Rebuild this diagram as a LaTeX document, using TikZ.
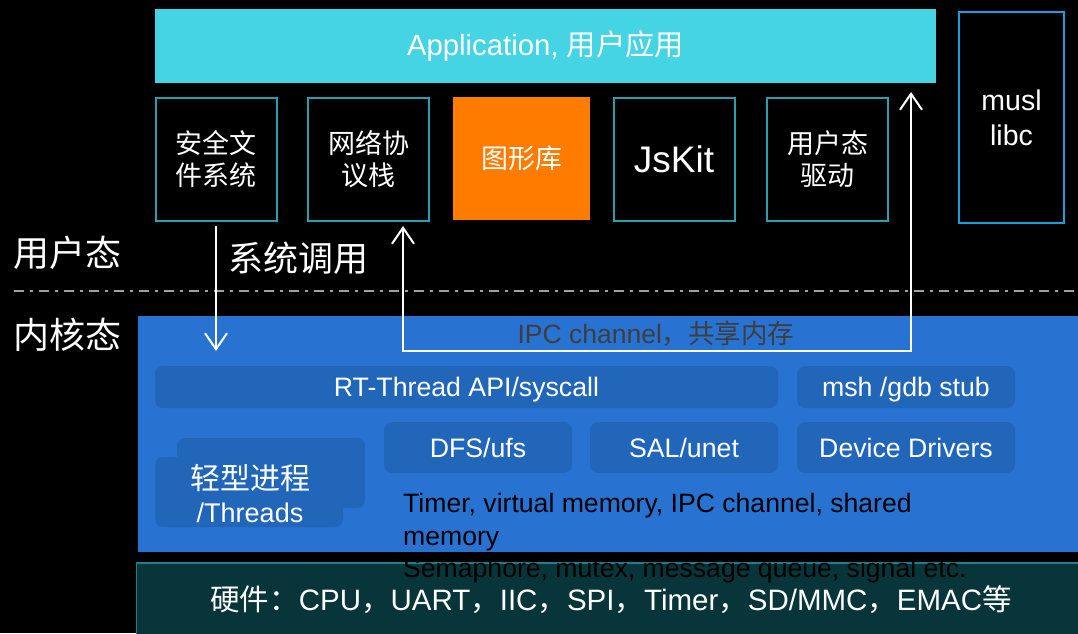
\documentclass[tikz,border=0pt]{standalone}
\usepackage{fontspec}
\setmainfont{Liberation Sans}
\newfontfamily\cjk{Noto Sans CJK SC}
\usetikzlibrary{arrows.meta}
\definecolor{appcyan}{HTML}{45D4E4}
\definecolor{boxteal}{HTML}{2A9DAE}
\definecolor{gfxorange}{HTML}{FF7C00}
\definecolor{muslblue}{HTML}{159EE0}
\definecolor{kblue}{HTML}{2873D1}
\definecolor{kinner}{HTML}{2166B9}
\definecolor{hwfill}{HTML}{07353A}
\definecolor{hwline}{HTML}{1B7F8C}
\definecolor{ipcgray}{HTML}{3E3E3E}
\definecolor{dashgray}{HTML}{A0A0A0}
\begin{document}
\begin{tikzpicture}[x=1pt,y=-1pt,
  ubox/.style={draw=boxteal, line width=2pt, fill=black, text=white, inner sep=0pt,
    minimum width=121pt, minimum height=123pt, align=center,
    font=\fontsize{27}{32}\selectfont\cjk},
  kbox/.style={fill=kinner, rounded corners=8pt, text=white, inner sep=0pt,
    text height=23pt, text depth=4pt, font=\fontsize{26.7}{32}\selectfont},
  sidelbl/.style={text=white, inner sep=0pt, font=\fontsize{36}{40}\selectfont\cjk},
  barb/.tip={Straight Barb[length=16pt,width=22pt,line width=2pt]},
  arr/.style={draw=white, line width=2pt, -barb},
  arrtwo/.style={draw=white, line width=2pt, barb-barb}
]
\fill[black] (0,0) rectangle (1078,633);
\useasboundingbox (0,0) rectangle (1078,633);

% user space
\node[fill=appcyan, text=white, inner sep=0pt, minimum width=781pt, minimum height=74pt,
  font=\fontsize{29.3}{34}\selectfont] (app) at (545.5,46) {Application, {\cjk 用户应用}};
\node[ubox] (fs) at (216,159) {安全文\\件系统};
\node[ubox] (net) at (368.5,159) {网络协\\议栈};
\node[fill=gfxorange, text=white, inner sep=0pt, minimum width=137pt, minimum height=123pt,
  font=\fontsize{27}{32}\selectfont\cjk] (gfx) at (521.5,158.5) {图形库};
\node[ubox, font=\fontsize{37}{40}\selectfont] (js) at (674,159) {JsKit};
\node[ubox] (drv) at (827.5,159) {用户态\\驱动};
\node[draw=muslblue, line width=2.5pt, fill=black, text=white, inner sep=0pt,
  minimum width=105pt, minimum height=211pt, align=center,
  font=\fontsize{28.5}{35}\selectfont] (musl) at (1011.5,117.5) {musl\\libc};

\node[sidelbl] (ulbl) at (67,253) {用户态};
\node[sidelbl, font=\fontsize{35}{40}\selectfont\cjk] (sclbl) at (298,258) {系统调用};
\draw[dashgray, line width=2.5pt, dash pattern=on 10pt off 6pt on 3pt off 6pt] (14,291) -- (1078,291);
\node[sidelbl] (klbl) at (67,335) {内核态};

% kernel
\node[fill=kblue, inner sep=0pt, minimum width=940pt, minimum height=236pt] (kernel) at (608,434) {};
\node[text=ipcgray, inner sep=0pt, font=\fontsize{26.5}{32}\selectfont] (ipc) at (656,334) {IPC channel{\cjk ，共享内存}};
\node[kbox, minimum width=623pt, minimum height=42pt] (rt) at (466.5,387) {RT-Thread API/syscall};
\node[kbox, minimum width=218pt, minimum height=42pt] (msh) at (906,387) {msh /gdb stub};
\node[kbox, minimum width=188pt, minimum height=51pt] (dfs) at (478,447.5) {DFS/ufs};
\node[kbox, minimum width=188pt, minimum height=51pt] (sal) at (684,447.5) {SAL/unet};
\node[kbox, minimum width=218pt, minimum height=51pt] (dev) at (906,447.5) {Device Drivers};
\node[kbox, minimum width=188pt, minimum height=70pt] (lwpa) at (271,473) {};
\node[kbox, minimum width=188pt, minimum height=70pt] (lwpb) at (249,492) {};
\node[text=white, inner sep=0pt, align=center, font=\fontsize{27}{33}\selectfont] (lwp) at (250,493.5)
  {{\cjk\fontsize{30}{33}\selectfont 轻型进程}\\/Threads};

% hardware
\node[draw=hwline, line width=1.5pt, fill=hwfill, inner sep=0pt, minimum width=945pt, minimum height=75pt] (hw) at (609,600.5) {};
\node[text=black, inner sep=0pt, align=left, anchor=north west, font=\fontsize{26.6}{32.5}\selectfont] (feat) at (403,493.5)
  {Timer, virtual memory, IPC channel, shared\\memory\\Semaphore, mutex, message queue, signal etc.};
\node[text=white, inner sep=0pt, font=\fontsize{29.5}{34}\selectfont] (hwt) at (611,600)
  {{\cjk 硬件：}CPU{\cjk ，}UART{\cjk ，}IIC{\cjk ，}SPI{\cjk ，}Timer{\cjk ，}SD/MMC{\cjk ，}EMAC{\cjk 等}};

% connectors
\coordinate (sysTop) at (216,226);
\coordinate (sysBot) at (216,351);
\draw[arr] (sysTop) -- (sysBot);
\coordinate (ipcLtop) at (403,226);
\coordinate (ipcL) at (403,351);
\coordinate (ipcR) at (911,351);
\coordinate (ipcRtop) at (911,92);
\draw[arrtwo] (ipcLtop) -- (ipcL) -- (ipcR) -- (ipcRtop);
\end{tikzpicture}
\end{document}
